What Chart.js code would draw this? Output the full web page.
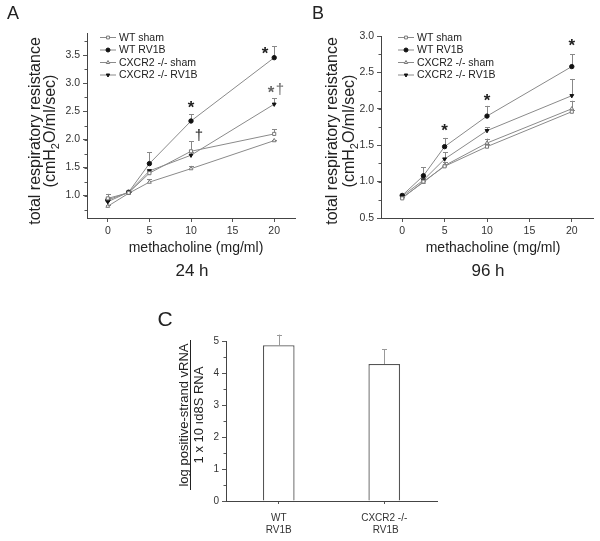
<!DOCTYPE html>
<html>
<head>
<meta charset="utf-8">
<script src="https://cdn.jsdelivr.net/npm/chart.js@4.4.0/dist/chart.umd.min.js"></script>
<style>
  body { margin: 0; background: #fff; width: 600px; height: 541px; position: relative; overflow: hidden; }
  canvas { position: absolute; }
</style>
</head>
<body>
<canvas id="chartA" width="300" height="300" style="left:0;top:0"></canvas>
<canvas id="chartB" width="300" height="300" style="left:300px;top:0"></canvas>
<canvas id="chartC" width="300" height="241" style="left:150px;top:300px"></canvas>
<script>
// ---- data ----
const doses = [0, 2.5, 5, 10, 20];
const seriesNames = ['WT sham', 'WT RV1B', 'CXCR2 -/- sham', 'CXCR2 -/- RV1B'];

// 24 h
const wtSham24 = [0.95, 1.05, 1.40, 1.79, 2.10];
const wtRv24   = [0.92, 1.06, 1.57, 2.33, 3.46];
const koSham24 = [0.81, 1.04, 1.24, 1.48, 1.98];
const koRv24   = [0.89, 1.06, 1.44, 1.72, 2.63];
const wtShamErr24 = [0.08, 0.02, 0.03, 0.18, 0.08];
const wtRvErr24   = [0.05, 0.03, 0.20, 0.12, 0.20];
const koShamErr24 = [0.03, 0.02, 0.05, 0.05, 0.02];
const koRvErr24   = [0.06, 0.02, 0.03, 0.05, 0.11];

// 96 h
const wtSham96 = [0.77, 1.00, 1.21, 1.48, 1.96];
const wtRv96   = [0.81, 1.08, 1.48, 1.90, 2.58];
const koSham96 = [0.78, 0.99, 1.22, 1.53, 2.00];
const koRv96   = [0.80, 1.02, 1.31, 1.70, 2.18];
const wtShamErr96 = [0.02, 0.02, 0.03, 0.03, 0.03];
const wtRvErr96   = [0.02, 0.12, 0.12, 0.14, 0.17];
const koShamErr96 = [0.02, 0.02, 0.05, 0.06, 0.11];
const koRvErr96   = [0.02, 0.03, 0.09, 0.05, 0.23];

// viral RNA
const groupsC = [['WT', 'RV1B'], ['CXCR2 -/-', ' RV1B']];
const vrna = [4.87, 4.28];
const vrnaErr = [0.33, 0.47];

// significance marks: [dose, value, text]
const marks24 = [[10, 2.62, '*'], [18.9, 3.59, '*'], [20.1, 2.89, '*\u2020'], [10.95, 2.06, '\u2020']];
const marks96 = [[5, 1.75, '*'], [10, 2.16, '*'], [20, 2.92, '*']];

const ticksA = [1.0, 1.5, 2.0, 2.5, 3.0, 3.5];
const ticksB = [0.5, 1.0, 1.5, 2.0, 2.5, 3.0];
const ticksC = [0, 1, 2, 3, 4, 5];
const doseTicks = [0, 5, 10, 15, 20];

// ---- styles ----
const FONT = 'Arial, "Liberation Sans", sans-serif';
Chart.defaults.font.family = FONT;
Chart.defaults.color = '#333';
const lineGray = '#8a8a8a';
const styles = [
  { pointStyle: 'rect', fill: '#fff', stroke: '#777', rotation: 0 },
  { pointStyle: 'circle', fill: '#111', stroke: '#111', rotation: 0 },
  { pointStyle: 'triangle', fill: '#fff', stroke: '#777', rotation: 0 },
  { pointStyle: 'triangle', fill: '#111', stroke: '#111', rotation: 180 }
];

function rotText(ctx, lines, x, y, font) {
  ctx.save();
  ctx.translate(x, y);
  ctx.rotate(-Math.PI / 2);
  ctx.font = font;
  ctx.fillStyle = '#222';
  ctx.textAlign = 'center';
  ctx.textBaseline = 'middle';
  lines.forEach(l => ctx.fillText(l[0], 0, l[1]));
  ctx.restore();
}

// y title with subscript in cmH2O
function respTitle(ctx, x1, x2, yc) {
  ctx.save();
  ctx.fillStyle = '#222';
  ctx.textBaseline = 'middle';
  ctx.font = '16px ' + FONT;
  ctx.translate(x1, yc);
  ctx.rotate(-Math.PI / 2);
  ctx.textAlign = 'center';
  ctx.fillText('total respiratory resistance', 0, 0);
  ctx.restore();
  ctx.save();
  ctx.fillStyle = '#222';
  ctx.textBaseline = 'middle';
  ctx.translate(x2, yc);
  ctx.rotate(-Math.PI / 2);
  const big = '16px ' + FONT, small = '11px ' + FONT;
  ctx.font = big; const w1 = ctx.measureText('(cmH').width;
  ctx.font = small; const w2 = ctx.measureText('2').width;
  ctx.font = big; const w3 = ctx.measureText('O/ml/sec)').width;
  let sx = -(w1 + w2 + w3) / 2;
  ctx.textAlign = 'left';
  ctx.fillText('(cmH', sx, 0);
  ctx.font = small; ctx.fillText('2', sx + w1, 5);
  ctx.font = big; ctx.fillText('O/ml/sec)', sx + w1 + w2, 0);
  ctx.restore();
}

const decor = {
  id: 'decor',
  beforeDatasetsDraw(chart, args, o) {
    const ctx = chart.ctx, ys = chart.scales.y;
    ctx.save();
    ctx.strokeStyle = o.errColor || '#888';
    ctx.lineWidth = 1;
    (o.errors || []).forEach((errs, di) => {
      const meta = chart.getDatasetMeta(di);
      meta.data.forEach((el, i) => {
        const v = chart.data.datasets[di].data[i];
        const val = typeof v === 'object' ? v.y : v;
        const y0 = ys.getPixelForValue(val);
        const y1 = ys.getPixelForValue(val + errs[i]);
        const x = Math.round(el.x) + 0.5;
        ctx.beginPath();
        ctx.moveTo(x, y0); ctx.lineTo(x, y1);
        ctx.moveTo(x - 2.5, Math.round(y1) + 0.5); ctx.lineTo(x + 2.5, Math.round(y1) + 0.5);
        ctx.stroke();
      });
    });
    ctx.restore();
  },
  afterDraw(chart, args, o) {
    const ctx = chart.ctx, xs = chart.scales.x, ys = chart.scales.y;
    const area = chart.chartArea;
    ctx.save();
    // minor ticks on y axis
    if (o.minorStep) {
      ctx.strokeStyle = '#555'; ctx.lineWidth = 1;
      for (let v = ys.min; v <= ys.max + 1e-9; v += o.minorStep) {
        const vv = Math.round(v / o.minorStep) * o.minorStep;
        if (vv < ys.min - 1e-9 || vv > ys.max + 1e-9) continue;
        const py = Math.round(ys.getPixelForValue(vv)) + 0.5;
        ctx.beginPath(); ctx.moveTo(area.left - 2.5, py); ctx.lineTo(area.left, py); ctx.stroke();
      }
    }
    // significance marks
    (o.marks || []).forEach(m => {
      ctx.fillStyle = '#222';
      ctx.font = 'bold 17px ' + FONT;
      ctx.textAlign = 'center';
      ctx.textBaseline = 'middle';
      const px = xs.getPixelForValue(m[0]);
      const py = ys.getPixelForValue(m[1]);
      if (m[2].length > 1) {
        ctx.fillStyle = '#666';
        ctx.fillText('*', px - 4, py + 4);
        ctx.font = '15px ' + FONT;
        ctx.fillText('\u2020', px + 5, py);
      } else if (m[2] === '*') {
        ctx.fillText('*', px, py + 4);
      } else {
        ctx.font = '15px ' + FONT;
        ctx.fillText(m[2], px, py);
      }
    });
    // legend
    if (o.legend) {
      const L = o.legend;
      ctx.font = '10.5px ' + FONT;
      ctx.textAlign = 'left';
      ctx.textBaseline = 'middle';
      seriesNames.forEach((name, i) => {
        const y = L.y + i * 12.5;
        ctx.strokeStyle = lineGray; ctx.lineWidth = 1;
        ctx.beginPath(); ctx.moveTo(L.x, y + 0.5); ctx.lineTo(L.x + 16, y + 0.5); ctx.stroke();
        const s = styles[i];
        ctx.fillStyle = s.fill; ctx.strokeStyle = s.stroke;
        Chart.helpers.drawPoint(ctx, { pointStyle: s.pointStyle, rotation: s.rotation, radius: 2, borderWidth: 1 }, L.x + 8, y + 0.5);
        ctx.fillStyle = '#222';
        ctx.fillText(name, L.x + 19, y + 1);
      });
    }
    // free texts
    (o.texts || []).forEach(t => {
      ctx.fillStyle = '#222';
      ctx.font = t.font;
      ctx.textAlign = t.align || 'center';
      ctx.textBaseline = 'middle';
      ctx.fillText(t.text, t.x, t.y);
    });
    if (o.resp) respTitle(ctx, o.resp[0], o.resp[1], o.resp[2]);
    if (o.rot) rotText(ctx, o.rot.lines, o.rot.x, o.rot.y, o.rot.font);
    if (o.underline) {
      const u = o.underline;
      ctx.strokeStyle = '#222'; ctx.lineWidth = 1;
      ctx.beginPath(); ctx.moveTo(u[0] + 0.5, u[1]); ctx.lineTo(u[0] + 0.5, u[2]); ctx.stroke();
    }
    ctx.restore();
  }
};

function lineDatasets(arrs) {
  return arrs.map((d, i) => ({
    label: seriesNames[i],
    data: d,
    borderColor: lineGray,
    borderWidth: 1,
    pointStyle: styles[i].pointStyle,
    rotation: styles[i].rotation,
    pointRadius: 2.2,
    pointBorderWidth: 1,
    pointBackgroundColor: styles[i].fill,
    pointBorderColor: styles[i].stroke,
    tension: 0
  }));
}

function respChart(id, arrs, errs, marks, yTicks, yMin, yMax, pad, yWidth, legendPos, texts, resp) {
  return new Chart(document.getElementById(id), {
    type: 'line',
    data: { labels: doses, datasets: lineDatasets(arrs).map(ds => ({ ...ds, data: ds.data.map((v, k) => ({ x: doses[k], y: v })) })) },
    options: {
      responsive: false,
      animation: false,
      layout: { padding: pad },
      plugins: {
        legend: { display: false },
        tooltip: { enabled: false },
        decor: { errors: errs, marks: marks, minorStep: 0.25, legend: legendPos, texts: texts, resp: resp }
      },
      scales: {
        x: {
          type: 'linear', min: -2.5, max: 22.5,
          afterBuildTicks: s => { s.ticks = doseTicks.map(v => ({ value: v })); },
          afterFit: s => { s.height = 82; },
          grid: { drawOnChartArea: false, tickLength: 4, color: '#555' },
          border: { color: '#444', width: 1 },
          ticks: { font: { size: 10.5 }, padding: 3, maxRotation: 0 }
        },
        y: {
          type: 'linear', min: yMin, max: yMax,
          afterBuildTicks: s => { s.ticks = yTicks.map(v => ({ value: v })); },
          afterFit: s => { s.width = yWidth; },
          grid: { drawOnChartArea: false, tickLength: 4, color: '#555' },
          border: { color: '#444', width: 1 },
          ticks: { font: { size: 10.5 }, padding: 3, callback: v => v.toFixed(1) }
        }
      }
    },
    plugins: [decor]
  });
}

respChart('chartA', [wtSham24, wtRv24, koSham24, koRv24],
  [wtShamErr24, wtRvErr24, koShamErr24, koRvErr24], marks24,
  ticksA, 0.6, 3.9, { left: 0, right: 2, top: 33, bottom: 0 }, 87,
  { x: 100, y: 37 },
  [
    { text: 'A', x: 13, y: 14, font: '18px ' + FONT },
    { text: 'methacholine (mg/ml)', x: 196, y: 248, font: '14px ' + FONT },
    { text: '24 h', x: 192, y: 271, font: '17px ' + FONT }
  ],
  [36, 51, 131]);

respChart('chartB', [wtSham96, wtRv96, koSham96, koRv96],
  [wtShamErr96, wtRvErr96, koShamErr96, koRvErr96], marks96,
  ticksB, 0.5, 3.0, { left: 0, right: 7, top: 36, bottom: 0 }, 81,
  { x: 98, y: 37 },
  [
    { text: 'B', x: 18, y: 14, font: '18px ' + FONT },
    { text: 'methacholine (mg/ml)', x: 193, y: 248, font: '14px ' + FONT },
    { text: '96 h', x: 188, y: 271, font: '17px ' + FONT }
  ],
  [33, 50, 131]);

new Chart(document.getElementById('chartC'), {
  type: 'bar',
  data: {
    labels: groupsC,
    datasets: [{
      data: vrna,
      backgroundColor: '#fff',
      borderColor: '#555',
      borderWidth: 1.3,
      borderSkipped: 'bottom',
      barPercentage: 0.3,
      categoryPercentage: 1
    }]
  },
  options: {
    responsive: false,
    animation: false,
    layout: { padding: { left: 0, right: 13, top: 41, bottom: 0 } },
    plugins: {
      legend: { display: false },
      tooltip: { enabled: false },
      decor: {
        errors: [vrnaErr],
        errColor: '#999',
        minorStep: 0.5,
        texts: [{ text: 'C', x: 15, y: 20, font: '21px ' + FONT }],
        rot: { x: 40, y: 115, font: '13px ' + FONT, lines: [['log positive-strand vRNA', -6], ['1 x 10 \u0131d8S RNA', 9]] },
        underline: [40, 40, 190]
      }
    },
    scales: {
      x: {
        afterFit: s => { s.height = 40; },
        grid: { drawOnChartArea: false, offset: false, tickLength: 3, color: '#555' },
        border: { color: '#444', width: 1 },
        ticks: { font: { size: 10 }, padding: 8, maxRotation: 0 }
      },
      y: {
        min: 0, max: 5,
        afterBuildTicks: s => { s.ticks = ticksC.map(v => ({ value: v })); },
        afterFit: s => { s.width = 76; },
        grid: { drawOnChartArea: false, tickLength: 4, color: '#555' },
        border: { color: '#444', width: 1 },
        ticks: { font: { size: 10 }, padding: 3 }
      }
    }
  },
  plugins: [decor]
});
</script>
</body>
</html>
